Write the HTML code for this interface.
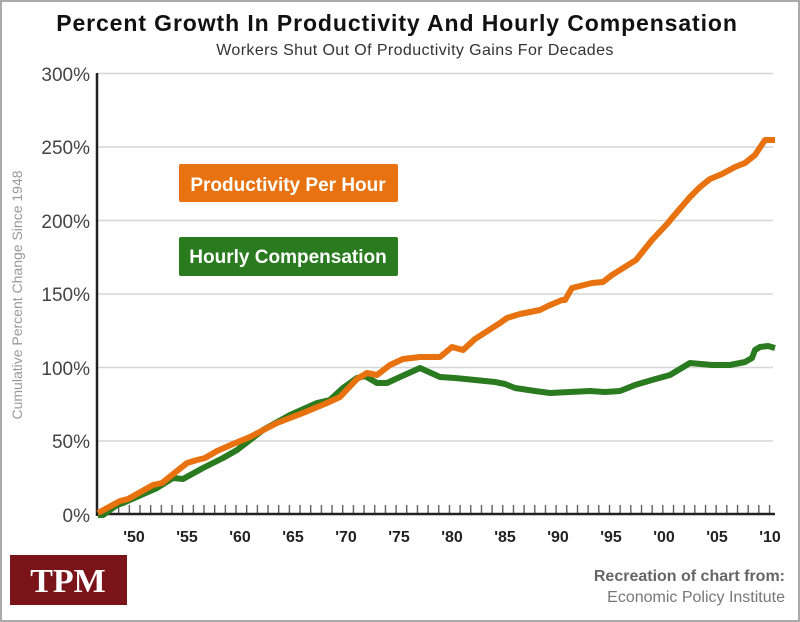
<!DOCTYPE html>
<html><head><style>
html,body{margin:0;padding:0;background:#fff}
svg{display:block}
text{font-family:"Liberation Sans","DejaVu Sans",sans-serif}
</style></head><body>
<svg width="800" height="622" viewBox="0 0 800 622" xmlns="http://www.w3.org/2000/svg">
<defs>
<pattern id="tk" x="118" y="0" width="10.67" height="622" patternUnits="userSpaceOnUse">
<rect x="0" y="0" width="1.3" height="622" fill="#555"/>
</pattern>
</defs>
<rect x="1" y="1" width="798" height="620" fill="#fff" stroke="#aaa" stroke-width="2"/>
<text x="397" y="31" text-anchor="middle" font-size="23" font-weight="bold" fill="#111" letter-spacing="0.9">Percent Growth In Productivity And Hourly Compensation</text>
<text x="415" y="55" text-anchor="middle" font-size="16" fill="#333" letter-spacing="0.4">Workers Shut Out Of Productivity Gains For Decades</text>
<g stroke="#d6d6d6" stroke-width="1.5">
<line x1="97" y1="73.5" x2="773" y2="73.5"/>
<line x1="97" y1="147" x2="773" y2="147"/>
<line x1="97" y1="220.5" x2="773" y2="220.5"/>
<line x1="97" y1="294" x2="773" y2="294"/>
<line x1="97" y1="367.5" x2="773" y2="367.5"/>
<line x1="97" y1="441" x2="773" y2="441"/>
</g>
<g font-size="19" fill="#444" text-anchor="end">
<text x="90" y="81">300%</text>
<text x="90" y="154">250%</text>
<text x="90" y="228">200%</text>
<text x="90" y="301">150%</text>
<text x="90" y="375">100%</text>
<text x="90" y="448">50%</text>
<text x="90" y="522">0%</text>
</g>
<text transform="translate(22,295) rotate(-90)" text-anchor="middle" font-size="14" fill="#999">Cumulative Percent Change Since 1948</text>
<rect x="100" y="505" width="675" height="9" fill="url(#tk)"/>
<line x1="97" y1="73" x2="97" y2="516" stroke="#222" stroke-width="2.5"/>
<line x1="96" y1="514" x2="775" y2="514" stroke="#222" stroke-width="2.5"/>
<g font-size="16" font-weight="bold" fill="#222" text-anchor="middle">
<text x="134" y="542">'50</text><text x="187" y="542">'55</text><text x="240" y="542">'60</text>
<text x="293" y="542">'65</text><text x="346" y="542">'70</text><text x="399" y="542">'75</text>
<text x="452" y="542">'80</text><text x="505" y="542">'85</text><text x="558" y="542">'90</text>
<text x="611" y="542">'95</text><text x="664" y="542">'00</text><text x="717" y="542">'05</text>
<text x="770" y="542">'10</text>
</g>
<polyline fill="none" stroke="#2a7a1f" stroke-width="6" stroke-linejoin="round" points="98,515 103,515 117,505 123,503 157,488 173,478 183,479 203,468 223,458 237,450 263,430 290,415 317,403 330,400 343,388 357,378 365,376 377,383 387,383 400,377 420,368 440,377 455,378 475,380 495,382 505,384 515,388 535,391 550,393 570,392 590,391 605,392 620,391 635,385 652,380 670,375 685,366 690,363 712,365 730,365 745,362 752,358 755,350 760,347 768,346 775,348"/>
<polyline fill="none" stroke="#e8720f" stroke-width="6" stroke-linejoin="round" points="98,513 120,501 128,499 153,485 162,483 187,463 197,460 205,458 217,451 233,444 250,437 277,423 303,413 327,403 340,397 357,379 367,373 377,375 390,365 403,359 420,357 440,357 452,347 463,350 475,339 500,323 507,318 520,314 540,310 548,306 562,300 565,300 572,288 592,283 603,282 612,275 628,265 636,260 652,240 668,223 672,218 690,197 700,187 710,179 722,174 735,167 745,163 755,155 765,140 775,140"/>
<rect x="179" y="164" width="219" height="38" fill="#e8720f" rx="2"/>
<text x="288" y="191" text-anchor="middle" font-size="19" font-weight="bold" fill="#fff">Productivity Per Hour</text>
<rect x="179" y="237" width="219" height="39" fill="#2a7a1f" rx="2"/>
<text x="288" y="263" text-anchor="middle" font-size="19" font-weight="bold" fill="#fff">Hourly Compensation</text>
<rect x="10" y="555" width="117" height="50" fill="#7a1418"/>
<text x="68" y="592" text-anchor="middle" font-size="34" font-weight="bold" fill="#fff" style="font-family:'Liberation Serif',serif">TPM</text>
<text x="785" y="581" text-anchor="end" font-size="16" font-weight="bold" fill="#666">Recreation of chart from:</text>
<text x="785" y="602" text-anchor="end" font-size="16" fill="#777">Economic Policy Institute</text>
</svg>
</body></html>
